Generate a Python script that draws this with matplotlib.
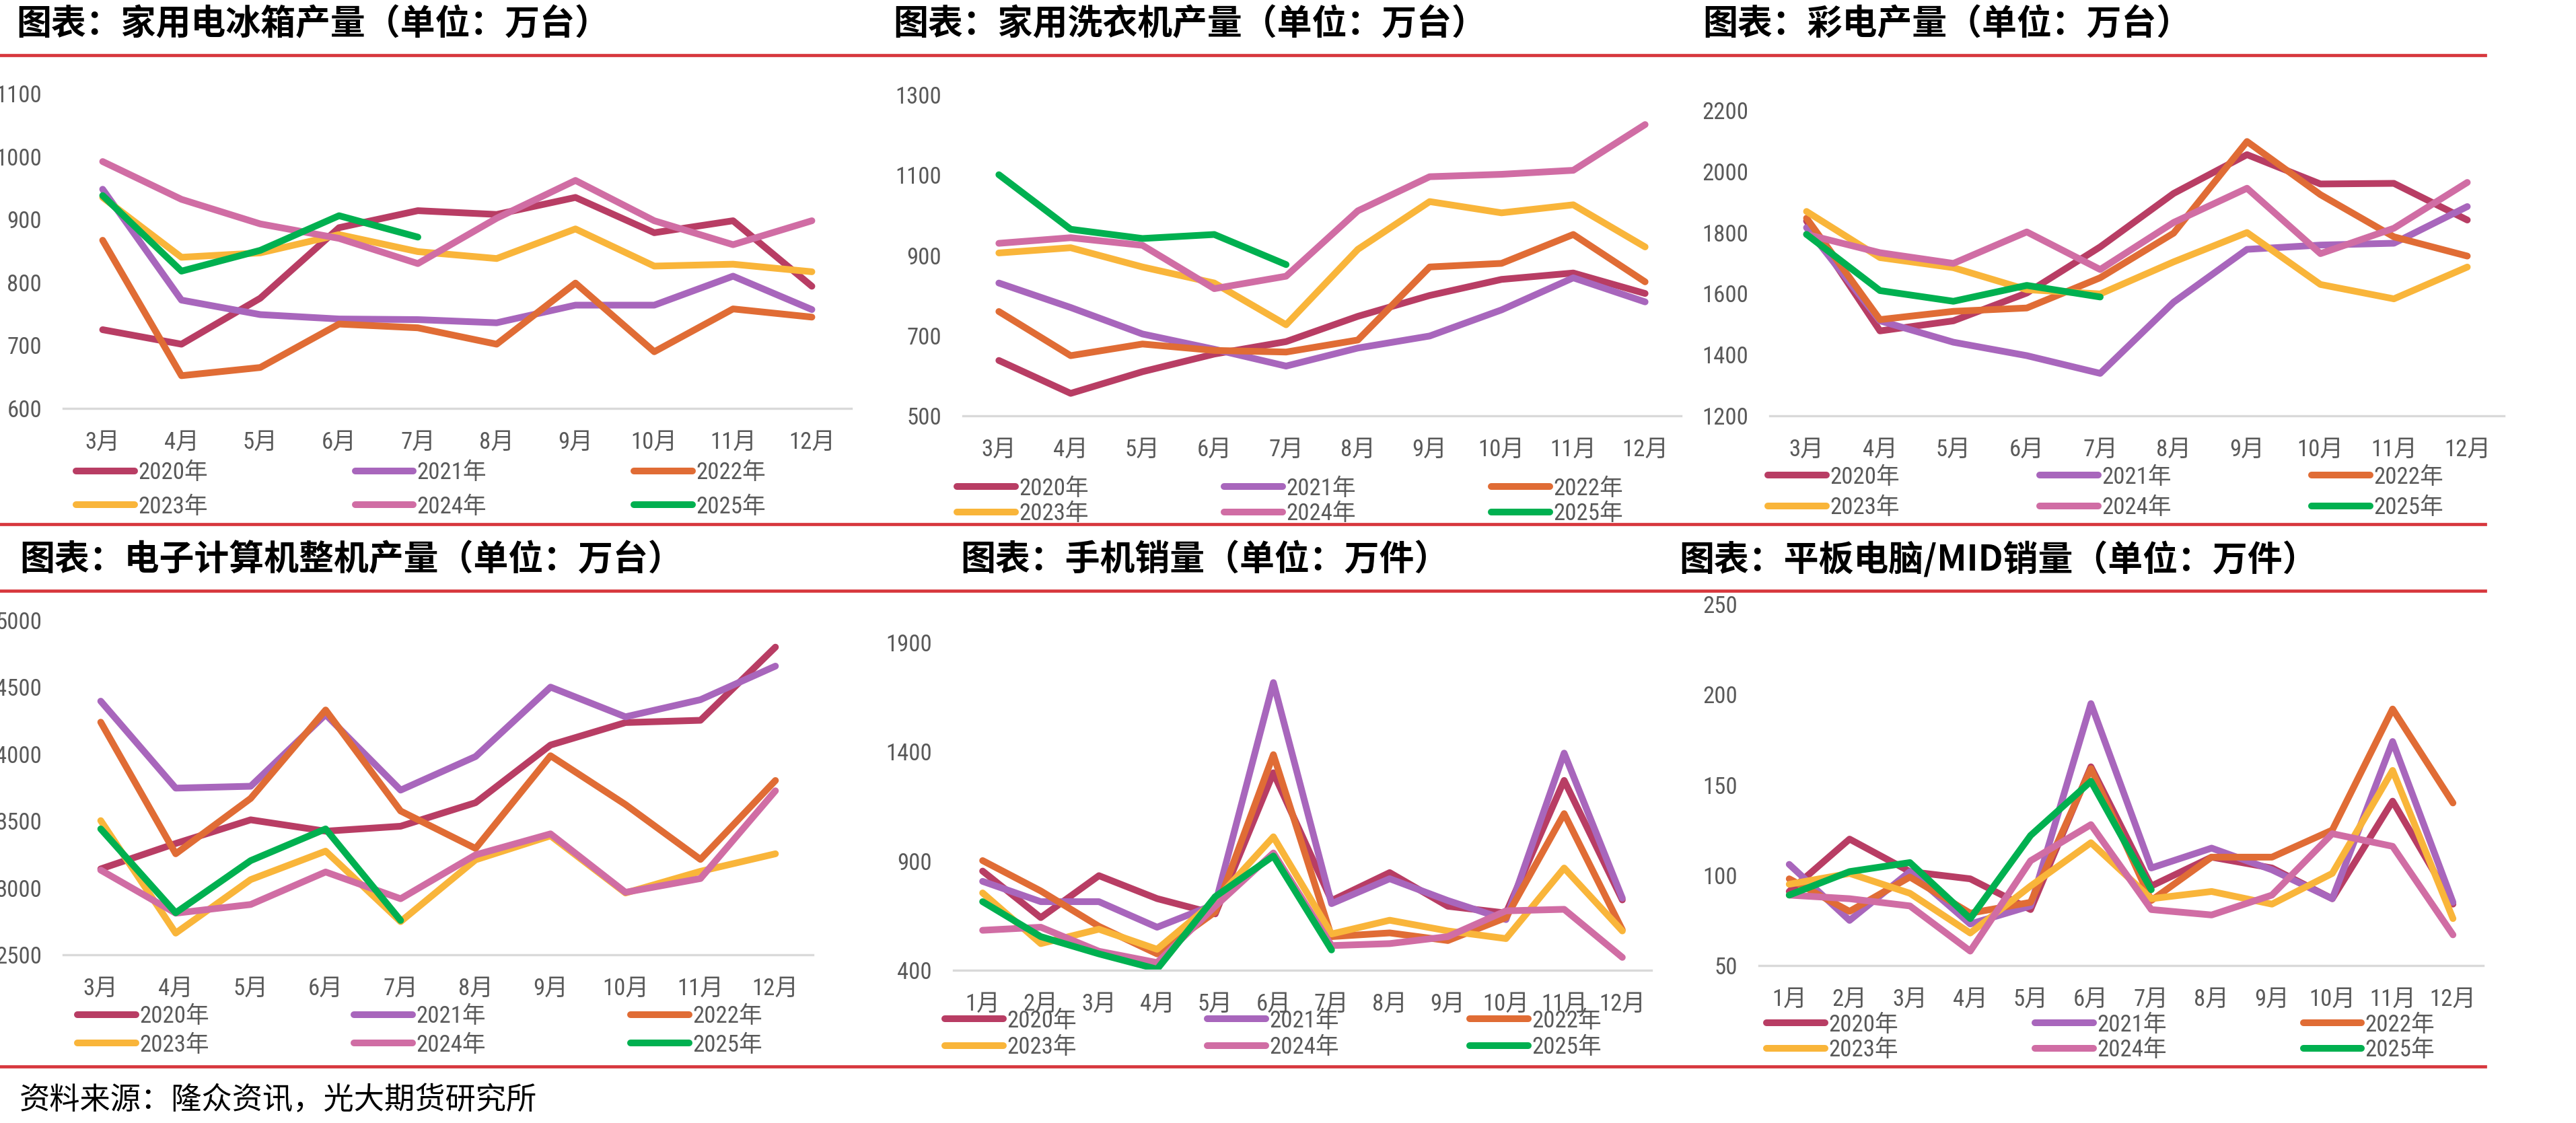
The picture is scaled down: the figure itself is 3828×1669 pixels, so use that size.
import matplotlib
matplotlib.use('Agg')
import matplotlib.pyplot as plt
from matplotlib import font_manager
from matplotlib.lines import Line2D

W, H = 3828, 1669
DPI = 200

years = ['2020年', '2021年', '2022年', '2023年', '2024年', '2025年']
colors = ['#B83D64', '#A866BC', '#E06C35', '#F9B53A', '#D06DA4', '#00B050']

months_3_12 = ['3月', '4月', '5月', '6月', '7月', '8月', '9月', '10月', '11月', '12月']
months_1_12 = ['1月', '2月'] + months_3_12

# 家用电冰箱产量 (万台), 3月-12月, 2020..2025
fridge = [
    [725, 702, 775, 887, 914, 908, 935, 879, 898, 794],
    [948, 772, 749, 742, 741, 736, 764, 764, 810, 757],
    [867, 652, 665, 734, 728, 702, 799, 690, 758, 745],
    [935, 840, 847, 876, 849, 838, 885, 826, 829, 817],
    [992, 932, 893, 870, 830, 902, 962, 898, 860, 898],
    [938, 818, 851, 906, 872],
]

# 家用洗衣机产量 (万台)
washer = [
    [638, 556, 610, 654, 685, 748, 800, 840, 856, 805],
    [831, 770, 704, 666, 624, 669, 699, 764, 844, 784],
    [760, 650, 679, 663, 659, 689, 871, 880, 952, 834],
    [906, 919, 871, 831, 727, 915, 1034, 1006, 1026, 921],
    [930, 944, 925, 817, 848, 1011, 1096, 1102, 1112, 1226],
    [1101, 965, 942, 952, 877],
]

# 彩电产量 (万台)
tv = [
    [1838, 1478, 1511, 1602, 1753, 1928, 2055, 1959, 1961, 1841],
    [1816, 1511, 1441, 1397, 1339, 1572, 1745, 1759, 1765, 1885],
    [1847, 1515, 1542, 1553, 1652, 1798, 2098, 1924, 1786, 1723],
    [1869, 1718, 1685, 1613, 1599, 1704, 1800, 1630, 1583, 1687],
    [1794, 1734, 1699, 1802, 1679, 1833, 1945, 1731, 1814, 1964],
    [1794, 1610, 1575, 1627, 1589],
]

# 电子计算机整机产量 (万台)
computer = [
    [3142, 3332, 3509, 3424, 3461, 3637, 4068, 4236, 4253, 4800],
    [4396, 3746, 3760, 4296, 3731, 3982, 4501, 4279, 4407, 4658],
    [4239, 3255, 3669, 4330, 3575, 3295, 3988, 3623, 3213, 3803],
    [3503, 2662, 3062, 3275, 2748, 3210, 3389, 2962, 3124, 3255],
    [3133, 2811, 2876, 3119, 2919, 3247, 3404, 2967, 3070, 3726],
    [3441, 2814, 3204, 3441, 2757],
]

# 手机销量 (万件), 1月-12月
phone = [
    [854, 641, 833, 728, 658, 1304, 719, 847, 693, 662, 1269, 722],
    [807, 714, 714, 597, 702, 1717, 705, 819, 719, 632, 1394, 730],
    [902, 763, 601, 475, 667, 1387, 554, 571, 536, 641, 1117, 585],
    [754, 522, 588, 496, 719, 1011, 566, 629, 580, 545, 868, 580],
    [583, 597, 487, 435, 693, 937, 513, 522, 554, 672, 679, 459],
    [714, 554, 475, 405, 737, 923, 493],
]

# 平板电脑/MID销量 (万件)
tablet = [
    [91, 120, 102, 98, 81, 160, 94, 110, 104, 87, 141, 84],
    [106, 75, 102, 73, 83, 195, 104, 115, 103, 87, 174, 85],
    [98, 80, 99, 79, 85, 159, 86, 110, 110, 125, 192, 140],
    [95, 101, 90, 68, 94, 118, 87, 91, 84, 101, 158, 76],
    [89, 87, 83, 58, 108, 128, 81, 78, 89, 123, 116, 67],
    [89, 102, 107, 76, 122, 152, 92],
]

installed = {f.name for f in font_manager.fontManager.ttflist}
num_font = next((f for f in ['Liberation Sans Narrow', 'Roboto Condensed', 'Open Sans Condensed']
                 if f in installed), 'Liberation Sans')
plt.rcParams['font.family'] = [num_font, 'Noto Sans CJK SC', 'DejaVu Sans']
cjk = ['Noto Sans CJK SC', 'DejaVu Sans']

fig = plt.figure(figsize=(W / DPI, H / DPI), dpi=DPI)
fig.patch.set_facecolor('white')

FS = 12.5
GRAY = '#595959'


def panel(title, tpos, box, ylim, yticks, cats, series, leg_x, leg_rows, colsp, rowsp):
    x0, y0, x1, y1 = box
    ax = fig.add_axes([x0 / W, 1 - y1 / H, (x1 - x0) / W, (y1 - y0) / H])
    for vals, c, lab in zip(series, colors, years):
        ax.plot(range(len(vals)), vals, color=c, lw=3.6, label=lab,
                solid_capstyle='round', solid_joinstyle='round')
    ax.set_xlim(-0.5, len(cats) - 0.5)
    ax.set_ylim(*ylim)
    ax.set_yticks(yticks)
    ax.set_xticks(range(len(cats)), cats)
    for s in ['top', 'right', 'left']:
        ax.spines[s].set_visible(False)
    ax.spines['bottom'].set_color('#D9D9D9')
    ax.spines['bottom'].set_linewidth(1.2)
    ax.tick_params(axis='both', length=0, labelsize=FS, labelcolor=GRAY)
    ax.tick_params(axis='y', pad=11.5)
    ax.tick_params(axis='x', pad=12)
    ax.patch.set_alpha(0)

    h, l = ax.get_legend_handles_labels()
    order = [0, 3, 1, 4, 2, 5]
    ly = (leg_rows[0] + leg_rows[1]) / 2
    ax.legend([h[i] for i in order], [l[i] for i in order], ncol=3,
              loc='center left', bbox_to_anchor=(leg_x / W, 1 - ly / H),
              bbox_transform=fig.transFigure, frameon=False, borderpad=0,
              borderaxespad=0, handlelength=2.5, handletextpad=0.15,
              columnspacing=colsp, labelspacing=rowsp, fontsize=FS,
              labelcolor=GRAY)

    fig.text(tpos[0] / W, 1 - tpos[1] / H, title, family=cjk, weight='bold',
             fontsize=18.7, color='black', va='center', ha='left')
    return ax


panel('图表：家用电冰箱产量（单位：万台）', (24, 36), (94, 139, 1265, 607),
      (600, 1100), range(600, 1101, 100), months_3_12, fridge,
      113, (703, 753), 6.3, 0.49)
panel('图表：家用洗衣机产量（单位：万台）', (1327, 36), (1431, 141, 2498, 618),
      (500, 1300), range(500, 1301, 200), months_3_12, washer,
      1422, (726, 764), 5.8, 0.14)
panel('图表：彩电产量（单位：万台）', (2530, 36), (2630, 164, 3721, 618),
      (1200, 2200), range(1200, 2201, 200), months_3_12, tv,
      2627, (709, 755), 6.0, 0.37)
panel('图表：电子计算机整机产量（单位：万台）', (29, 832), (94, 922, 1208, 1419),
      (2500, 5000), range(2500, 5001, 500), months_3_12, computer,
      115, (1511, 1553), 6.2, 0.26)
panel('图表：手机销量（单位：万件）', (1427, 832), (1417, 955, 2454, 1442),
      (400, 1900), range(400, 1901, 500), months_1_12, phone,
      1404, (1517, 1557), 5.6, 0.2)
panel('图表：平板电脑/MID销量（单位：万件）', (2495, 832), (2614, 898, 3690, 1435),
      (50, 250), range(50, 251, 50), months_1_12, tablet,
      2625, (1523, 1561), 5.85, 0.14)

# red separator rules
for y in [82, 779, 878, 1585]:
    fig.add_artist(Line2D([0, 3693 / W], [1 - y / H, 1 - y / H], transform=fig.transFigure,
                          color='#D7373D', lw=1.7))

fig.text(29 / W, 1 - 1635 / H, '资料来源：隆众资讯，光大期货研究所', family=cjk,
         fontsize=16.3, color='black', va='center', ha='left', style='italic')

fig.savefig('out.png', dpi=DPI, facecolor='white')
